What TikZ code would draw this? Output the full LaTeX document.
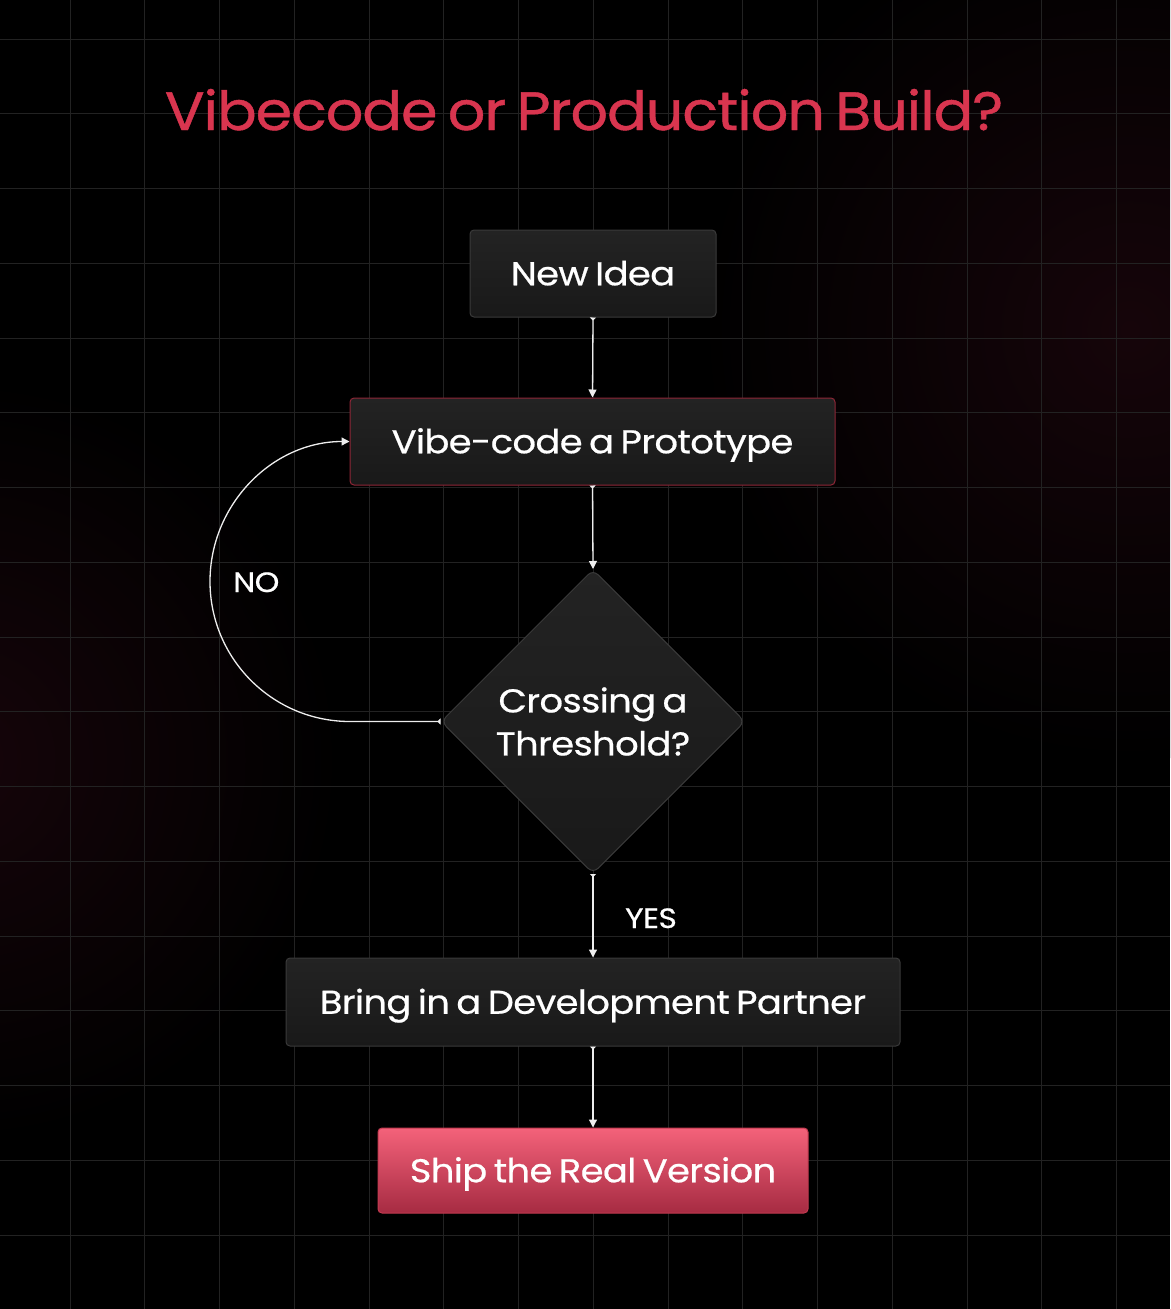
\documentclass[tikz,border=0pt]{standalone}
\usepackage{fontspec}
\usetikzlibrary{shapes.geometric,arrows.meta}
\newfontfamily\popfont{Poppins}[LetterSpace=-2,WordSpace=0.7,FakeStretch=1.12,FakeBold=0.6]
\newfontfamily\poptitle{Poppins}[LetterSpace=-2,WordSpace=0.7,FakeStretch=1.09,FakeBold=0.8]
\definecolor{bgglow}{HTML}{16050A}
\definecolor{gridc}{HTML}{222222}
\definecolor{titlec}{HTML}{D9354F}
\definecolor{boxtop}{HTML}{232323}
\definecolor{boxbot}{HTML}{191919}
\definecolor{boxline}{HTML}{3A3A3A}
\definecolor{redline}{HTML}{8E2636}
\definecolor{shiptop}{HTML}{F4627A}
\definecolor{shipbot}{HTML}{A62B42}
\definecolor{shipline}{HTML}{C23A50}
\definecolor{arrowc}{HTML}{EDEDED}
\tikzset{
  gridline/.style={draw=gridc, line width=1pt},
  boxnode/.style={rectangle, rounded corners=4pt, draw=boxline, line width=1pt,
    top color=boxtop, bottom color=boxbot, text=white, inner sep=0pt,
    text height=23.5pt, text depth=0pt,
    font={\popfont\fontsize{33}{40}\selectfont}},
  dianode/.style={diamond, shape aspect=1, rounded corners=7pt, draw=boxline, line width=1pt,
    top color=boxtop, bottom color=boxbot, text=white, inner sep=0pt, align=center,
    minimum width=304pt, minimum height=304pt,
    font={\popfont\fontsize{33}{43}\selectfont}},
  shipnode/.style={rectangle, rounded corners=4pt, draw=shipline, line width=1pt,
    top color=shiptop, bottom color=shipbot, text=white, inner sep=0pt,
    text height=23.5pt, text depth=0pt,
    font={\popfont\fontsize{33}{40}\selectfont}},
  flow/.style={draw=arrowc, line width=1.3pt,
    {Triangle[reversed,width=6pt,length=3pt]}-{Triangle[width=8pt,length=8pt]}},
  lbl/.style={text=white, font={\popfont\fontsize{28}{32}\selectfont}, inner sep=0pt}
}
\begin{document}
\begin{tikzpicture}[x=1pt,y=-1pt]
\useasboundingbox (0,0) rectangle (1170,1309);
\fill[black] (0,0) rectangle (1170,1309);
\begin{scope}
\clip (0,0) rectangle (1170,1309);
\shade[inner color=bgglow, outer color=black] (1130,330) circle (430);
\shade[inner color=bgglow, outer color=black] (-40,760) circle (380);
\foreach \i in {0,...,14} \draw[gridline] (70+74.75*\i,0) -- (70+74.75*\i,1309);
\foreach \j in {0,...,16} \draw[gridline] (0,39+74.75*\j) -- (1170,39+74.75*\j);
\end{scope}

\node[anchor=base, text=titlec, inner sep=0pt, font={\poptitle\fontsize{54}{60}\selectfont}] (title) at (584,130) {Vibecode or Production Build?};

\node[boxnode, minimum width=246pt, minimum height=87pt] (idea) at (593,273.5) {New Idea};
\node[boxnode, draw=redline, minimum width=485pt, minimum height=87pt] (vibe) at (592.5,441.5) {Vibe-code a Prototype};
\node[dianode] (dia) at (593,721.5) {Crossing a\\Threshold?};
\node[boxnode, minimum width=614pt, minimum height=88pt] (partner) at (593,1002) {Bring in a Development Partner};
\node[shipnode, minimum width=430pt, minimum height=85pt] (ship) at (593,1170.5) {Ship the Real Version};

\coordinate (nobot) at (350,721.5);
\coordinate (noleft) at (210,581.5);
\draw[flow] (idea.south) -- (vibe.north);
\draw[flow] (vibe.south) -- (dia.north);
\draw[flow] (dia.south) -- (partner.north);
\draw[flow] (partner.south) -- (ship.north);
\draw[flow] (dia.west) -- (nobot) .. controls (272.7,721.5) and (210,658.8) .. (noleft)
   .. controls (210,504.2) and (272.7,441.5) .. (vibe.west);

\node[lbl, anchor=base west] (no) at (233,592) {NO};
\node[lbl, anchor=base west] (yes) at (625,928) {YES};
\end{tikzpicture}
\end{document}
